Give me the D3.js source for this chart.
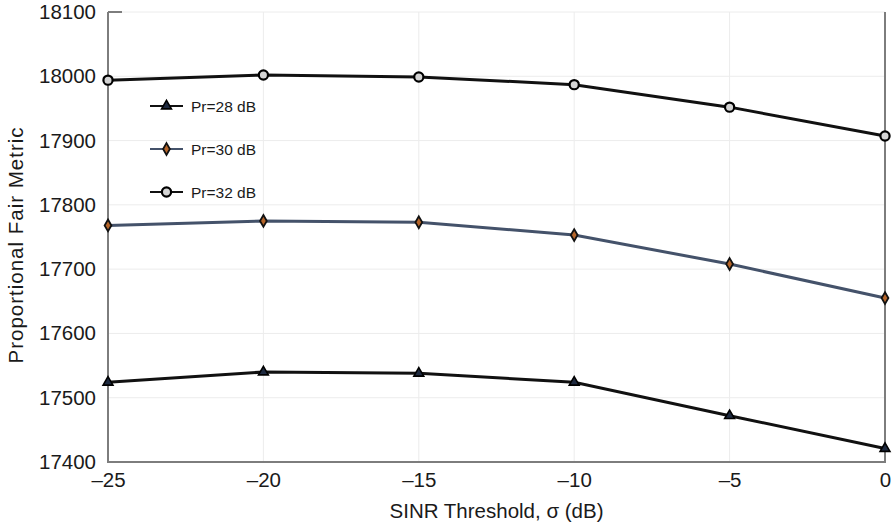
<!DOCTYPE html>
<html>
<head>
<meta charset="utf-8">
<script src="https://cdn.jsdelivr.net/npm/d3@7"></script>
<style>
  html, body { margin: 0; padding: 0; background: #fff; }
  svg { display: block; font-family: "Liberation Sans", Arial, Helvetica, sans-serif; }
</style>
</head>
<body>
<svg id="chart" width="892" height="527"></svg>
<script>
// SINR threshold values (dB) on the x axis
const thresholds = [-25, -20, -15, -10, -5, 0];

// Proportional fair metric for each received power level
const pr28 = [17524, 17540, 17538, 17524, 17472, 17421];
const pr30 = [17768, 17775, 17773, 17753, 17708, 17655];
const pr32 = [17994, 18002, 17999, 17987, 17952, 17907];

const seriesNames = ["Pr=28 dB", "Pr=30 dB", "Pr=32 dB"];
const xTicks = [-25, -20, -15, -10, -5, 0];
const yTicks = [17400, 17500, 17600, 17700, 17800, 17900, 18000, 18100];

const svg = d3.select("#chart");
const margin = { left: 108, right: 7, top: 12, bottom: 65 };
const W = 892, H = 527;
const FONT = 20.5;

const x = d3.scaleLinear().domain([-25, 0]).range([margin.left, W - margin.right]);
const y = d3.scaleLinear().domain([17400, 18100]).range([H - margin.bottom, margin.top]);

// light grid
const grid = svg.append("g").attr("stroke", "#ececec").attr("stroke-width", 1);
grid.selectAll("line.v").data(xTicks).join("line")
  .attr("x1", d => x(d)).attr("x2", d => x(d))
  .attr("y1", y(17400)).attr("y2", y(18100));
grid.selectAll("line.h").data(yTicks).join("line")
  .attr("x1", x(-25)).attr("x2", x(0))
  .attr("y1", d => y(d)).attr("y2", d => y(d));

// axes: only labels, the frame is drawn separately
const fmtX = d => d < 0 ? "\u2013" + Math.abs(d) : String(d);
const xAxis = svg.append("g")
  .attr("transform", `translate(0,${y(17400)})`)
  .call(d3.axisBottom(x).tickValues(xTicks).tickFormat(fmtX).tickSize(0).tickPadding(10));
const yAxis = svg.append("g")
  .attr("transform", `translate(${x(-25)},0)`)
  .call(d3.axisLeft(y).tickValues(yTicks).tickFormat(d3.format("d")).tickSize(0).tickPadding(12));
[xAxis, yAxis].forEach(a => {
  a.select(".domain").remove();
  a.selectAll("text").attr("font-size", FONT).attr("fill", "#1a1a1a")
    .attr("font-family", "Liberation Sans, Arial, sans-serif");
});

// plot frame: left and bottom axis lines plus right edge
svg.append("path")
  .attr("d", `M${x(-25)},${y(18100)}V${y(17400)}H${x(0)}V${y(18100)}`)
  .attr("fill", "none").attr("stroke", "#7d7d7d").attr("stroke-width", 2);
svg.append("line")
  .attr("x1", x(-25)).attr("x2", x(-25) + 14)
  .attr("y1", y(18100)).attr("y2", y(18100))
  .attr("stroke", "#7d7d7d").attr("stroke-width", 2);

// axis titles
svg.append("text")
  .attr("x", (x(-25) + x(0)) / 2).attr("y", 518)
  .attr("text-anchor", "middle").attr("font-size", FONT).attr("fill", "#1a1a1a")
  .text("SINR Threshold, \u03c3 (dB)");
svg.append("text")
  .attr("transform", `translate(23,245) rotate(-90)`)
  .attr("text-anchor", "middle").attr("font-size", FONT).attr("fill", "#1a1a1a")
  .attr("letter-spacing", 1)
  .text("Proportional Fair Metric");

const series = [
  { name: seriesNames[0], values: pr28, color: "#111", marker: "triangle" },
  { name: seriesNames[1], values: pr30, color: "#44526a", marker: "diamond" },
  { name: seriesNames[2], values: pr32, color: "#111", marker: "circle" }
];

function drawMarker(g, type, cx, cy) {
  if (type === "triangle") {
    g.append("path")
      .attr("d", d3.symbol(d3.symbolTriangle, 42)())
      .attr("transform", `translate(${cx},${cy})`)
      .attr("fill", "#1e2a40").attr("stroke", "#000").attr("stroke-width", 1.6);
  } else if (type === "diamond") {
    g.append("path")
      .attr("d", d3.symbol(d3.symbolDiamond, 40)())
      .attr("transform", `translate(${cx},${cy})`)
      .attr("fill", "#b5652a").attr("stroke", "#111").attr("stroke-width", 1.8);
  } else {
    g.append("circle")
      .attr("cx", cx).attr("cy", cy).attr("r", 4.6)
      .attr("fill", "#d4d4d4").attr("stroke", "#000").attr("stroke-width", 2.2);
  }
}

const line = d3.line().x((d, i) => x(thresholds[i])).y(d => y(d));

series.forEach(s => {
  const g = svg.append("g");
  g.append("path").datum(s.values)
    .attr("d", line).attr("fill", "none")
    .attr("stroke", s.color).attr("stroke-width", 3);
  s.values.forEach((v, i) => drawMarker(g, s.marker, x(thresholds[i]), y(v)));
});

// legend
const legendTop = 106, legendStep = 43;
series.forEach((s, i) => {
  const ly = legendTop + i * legendStep;
  const g = svg.append("g");
  g.append("line").attr("x1", 150).attr("x2", 183).attr("y1", ly).attr("y2", ly)
    .attr("stroke", s.color).attr("stroke-width", 2);
  drawMarker(g, s.marker, 166.5, ly);
  g.append("text").attr("x", 191).attr("y", ly + 5.5)
    .attr("font-size", 15.5).attr("fill", "#1a1a1a").text(s.name);
});
</script>
</body>
</html>
